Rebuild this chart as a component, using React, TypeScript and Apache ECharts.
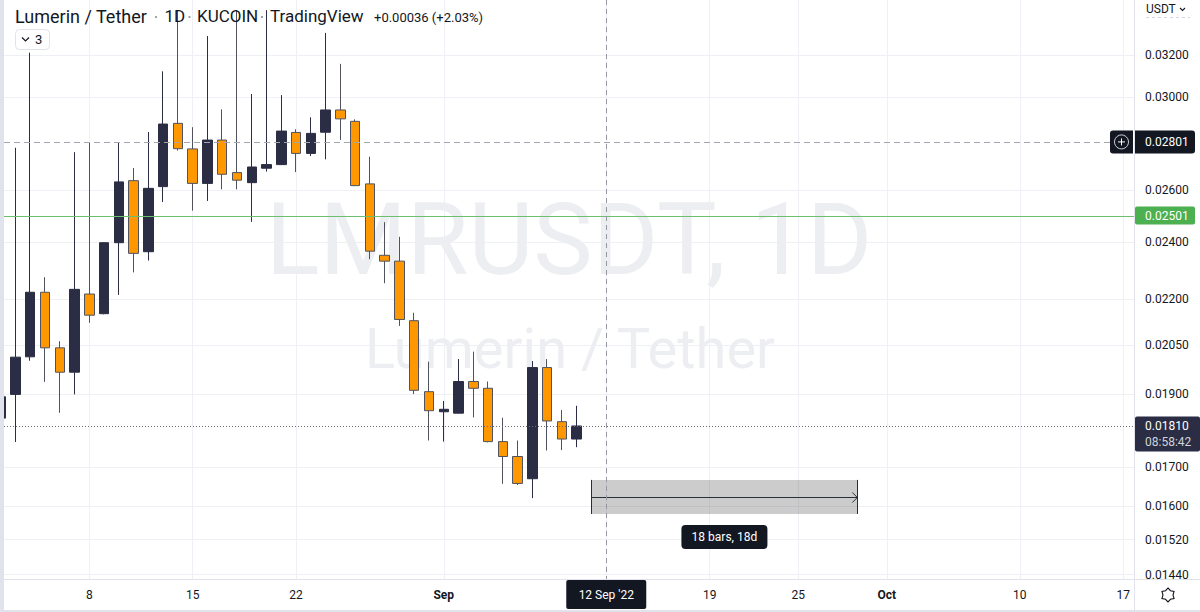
import React, { useEffect, useRef } from 'react';
import * as echarts from 'echarts';

const DAY = 86400000;

// ---- data ----
const dates = [
  '2022-08-02', '2022-08-03', '2022-08-04', '2022-08-05', '2022-08-06', '2022-08-07', '2022-08-08',
  '2022-08-09', '2022-08-10', '2022-08-11', '2022-08-12', '2022-08-13', '2022-08-14', '2022-08-15',
  '2022-08-16', '2022-08-17', '2022-08-18', '2022-08-19', '2022-08-20', '2022-08-21', '2022-08-22',
  '2022-08-23', '2022-08-24', '2022-08-25', '2022-08-26', '2022-08-27', '2022-08-28', '2022-08-29',
  '2022-08-30', '2022-08-31', '2022-09-01', '2022-09-02', '2022-09-03', '2022-09-04', '2022-09-05',
  '2022-09-06', '2022-09-07', '2022-09-08', '2022-09-09', '2022-09-10',
];
const opens = [
  0.01832, 0.01900, 0.02013, 0.02223, 0.02041, 0.01966, 0.02217,
  0.02151, 0.02399, 0.02639, 0.02366, 0.02615, 0.02882, 0.02771,
  0.02628, 0.02809, 0.02672, 0.02631, 0.02690, 0.02705, 0.02842,
  0.02752, 0.02843, 0.02942, 0.02891, 0.02626, 0.02353, 0.02332,
  0.02128, 0.01908, 0.01850, 0.01846, 0.01938, 0.01918, 0.01767,
  0.01727, 0.01669, 0.01980, 0.01822, 0.01774,
];
const closes = [
  0.01893, 0.02012, 0.02223, 0.02041, 0.01966, 0.02233, 0.02146,
  0.02399, 0.02634, 0.02360, 0.02608, 0.02879, 0.02772, 0.02628,
  0.02809, 0.02665, 0.02641, 0.02695, 0.02705, 0.02848, 0.02752,
  0.02838, 0.02942, 0.02902, 0.02619, 0.02368, 0.02332, 0.02132,
  0.01912, 0.01853, 0.01857, 0.01938, 0.01918, 0.01767, 0.01727,
  0.01657, 0.01980, 0.01824, 0.01774, 0.01810,
];
const lows = [
  0.01800, 0.01766, 0.02001, 0.01937, 0.01847, 0.01900, 0.02121,
  0.02149, 0.02214, 0.02292, 0.02334, 0.02554, 0.02764, 0.02520,
  0.02558, 0.02604, 0.02604, 0.02477, 0.02676, 0.02703, 0.02674,
  0.02741, 0.02727, 0.02809, 0.02617, 0.02339, 0.02254, 0.02111,
  0.01901, 0.01770, 0.01767, 0.01845, 0.01834, 0.01765, 0.01656,
  0.01653, 0.01620, 0.01743, 0.01744, 0.01752,
];
const highs = [
  0.01950, 0.02776, 0.03213, 0.02275, 0.02062, 0.02757, 0.02798,
  0.02400, 0.02798, 0.02691, 0.02844, 0.03122, 0.03430, 0.02865,
  0.03296, 0.02945, 0.03430, 0.03015, 0.03430, 0.03010, 0.02856,
  0.02909, 0.03312, 0.03158, 0.02900, 0.02738, 0.02476, 0.02421,
  0.02154, 0.01998, 0.01881, 0.02006, 0.02029, 0.01938, 0.01833,
  0.01770, 0.02000, 0.02006, 0.01855, 0.01867,
];

const priceTicks = [0.032, 0.03, 0.026, 0.024, 0.022, 0.0205, 0.019, 0.017, 0.016, 0.0152, 0.0144];
const dateTicks = [
  '2022-08-08', '2022-08-15', '2022-08-22', '2022-09-01', '2022-09-12',
  '2022-09-19', '2022-09-25', '2022-10-01', '2022-10-10', '2022-10-17',
];
const dateLabelTicks = dateTicks.filter((d) => d !== '2022-09-12');
const monthNames = ['Jan', 'Feb', 'Mar', 'Apr', 'May', 'Jun', 'Jul', 'Aug', 'Sep', 'Oct', 'Nov', 'Dec'];

const alertPrice = 0.02801;
const greenPrice = 0.02501;
const lastPrice = 0.0181;
const countdown = '08:58:42';
const crosshairDate = '2022-09-12';
const crosshairLabel = "12 Sep '22";
const measureStart = '2022-09-11';
const measureEnd = '2022-09-29';
const measureHigh = 0.01666;
const measureLow = 0.01581;
const measureText = '18 bars, 18d';

const titleParts = ['Lumerin / Tether', '1D', 'KUCOIN', 'TradingView'];
const changeText = '+0.00036 (+2.03%)';
const watermarkBig = 'LMRUSDT, 1D';
const watermarkSmall = 'Lumerin / Tether';

const ts = (d: string) => Date.parse(d + 'T00:00:00Z');

const DARK = '#2A2D43';
const ORANGE = '#FF9800';
const TEXT = '#131722';
const GRID = '#EEF0F5';
const BORDER = '#E0E3EB';
const FONT = 'Roboto, "Noto Sans", sans-serif';

export default function App() {
  const ref = useRef<HTMLDivElement>(null);

  useEffect(() => {
    const chart = echarts.init(ref.current!, null, { renderer: 'svg' });
    const data = dates.map((d, i) => [ts(d), opens[i], closes[i], lows[i], highs[i]]);
    const base = ts('2022-08-08');

    chart.setOption({
      animation: false,
      backgroundColor: '#ffffff',
      grid: { left: 4, right: 66, top: 0, bottom: 33, containLabel: false },
      xAxis: {
        type: 'value',
        min: base - 5.775 * DAY,
        max: base + 70.73 * DAY,
        axisLine: { show: false },
        axisTick: { show: false, customValues: dateTicks.map(ts) },
        splitLine: { show: true, lineStyle: { color: GRID, width: 1 } },
        axisLabel: {
          customValues: dateLabelTicks.map(ts),
          color: TEXT,
          fontSize: 12,
          fontFamily: FONT,
          margin: 10,
          formatter: (v: number) => {
            const d = new Date(v);
            const day = d.getUTCDate();
            if (day === 1) return '{b|' + monthNames[d.getUTCMonth()] + '}';
            return String(day);
          },
          rich: { b: { fontWeight: 'bold', fontSize: 12, fontFamily: FONT, color: TEXT } },
        },
      },
      yAxis: {
        type: 'log',
        logBase: 10,
        min: 0.014306,
        max: 0.034838,
        position: 'right',
        axisLine: { show: false },
        axisTick: { show: false, customValues: priceTicks },
        splitLine: { show: true, lineStyle: { color: GRID, width: 1 } },
        axisLabel: {
          customValues: priceTicks,
          color: TEXT,
          fontSize: 12,
          fontFamily: FONT,
          margin: 11,
          formatter: (v: number) => v.toFixed(5),
        },
      },
      series: [
        {
          type: 'candlestick',
          data,
          barWidth: 10,
          clip: true,
          itemStyle: {
            color: DARK,
            color0: ORANGE,
            borderColor: DARK,
            borderColor0: '#50535E',
            borderWidth: 1,
          },
        },
      ],
    });

    const P = (d: string, p: number) => chart.convertToPixel({ gridIndex: 0 }, [ts(d), p]) as number[];
    const yA = P(dates[0], alertPrice)[1];
    const yG = P(dates[0], greenPrice)[1];
    const yL = P(dates[0], lastPrice)[1];
    const cx = P(crosshairDate, lastPrice)[0];
    const mx1 = P(measureStart, measureHigh)[0];
    const my1 = P(measureStart, measureHigh)[1];
    const mx2 = P(measureEnd, measureLow)[0];
    const my2 = P(measureEnd, measureLow)[1];
    const mym = (my1 + my2) / 2;
    const mcx = (mx1 + mx2) / 2;
    const snap = (v: number) => Math.round(v) + 0.5;

    const txt = (text: string, x: number, y: number, opts: any = {}) => ({
      type: 'text',
      z: 100,
      style: {
        text,
        x,
        y,
        fill: TEXT,
        fontSize: 12,
        fontFamily: FONT,
        align: 'left',
        verticalAlign: 'middle',
        ...opts,
      },
    });

    const gear: number[][] = [];
    for (let i = 0; i < 12; i++) {
      const a = (Math.PI * 2 * i) / 12 - Math.PI / 2;
      const r = i % 2 === 0 ? 7 : 5;
      gear.push([1168 + r * Math.cos(a), 595 + r * Math.sin(a)]);
    }

    const titleX = [15, 164.5, 197, 270];
    const dotX = [156, 189.5, 262];

    const graphic: any[] = [
      {
        type: 'text', z: 1,
        style: { text: watermarkBig, x: 569, y: 239, fill: '#EDEEF2', fontSize: 100, fontFamily: FONT, align: 'center', verticalAlign: 'middle' },
      },
      {
        type: 'text', z: 1,
        style: { text: watermarkSmall, x: 570, y: 349, fill: '#EDEEF2', fontSize: 56, fontFamily: FONT, align: 'center', verticalAlign: 'middle' },
      },
      // price lines and crosshair
      { type: 'line', z: 60, shape: { x1: 4, y1: snap(yA), x2: 1110, y2: snap(yA) }, style: { stroke: '#A3A6AF', lineWidth: 1, lineDash: [6, 4] } },
      { type: 'line', z: 60, shape: { x1: 4, y1: snap(yG), x2: 1134, y2: snap(yG) }, style: { stroke: '#6BBF6E', lineWidth: 1 } },
      { type: 'line', z: 60, shape: { x1: 4, y1: snap(yL), x2: 1134, y2: snap(yL) }, style: { stroke: '#6A6D78', lineWidth: 1, lineDash: [1, 2] } },
      { type: 'line', z: 60, shape: { x1: snap(cx), y1: 0, x2: snap(cx), y2: 579 }, style: { stroke: '#9598A1', lineWidth: 1, lineDash: [5, 4] } },
      // frame
      { type: 'rect', z: 90, shape: { x: 0, y: 0, width: 4, height: 612 }, style: { fill: BORDER } },
      { type: 'rect', z: 90, shape: { x: 0, y: 610, width: 1200, height: 2 }, style: { fill: BORDER } },
      { type: 'line', z: 90, shape: { x1: 0, y1: 579.5, x2: 1200, y2: 579.5 }, style: { stroke: BORDER, lineWidth: 1 } },
      { type: 'line', z: 90, shape: { x1: 1134.5, y1: 0, x2: 1134.5, y2: 610 }, style: { stroke: BORDER, lineWidth: 1 } },
      // legend
      txt(titleParts[0], titleX[0], 16, { fontSize: 18 }),
      ...titleParts.slice(1).map((t, i) => txt(t, titleX[i + 1], 16, { fontSize: 17 })),
      ...dotX.map((x) => ({ type: 'circle', z: 100, shape: { cx: x, cy: 17, r: 1.1 }, style: { fill: '#9598A1' } })),
      txt(changeText, 374, 17, { fontSize: 13 }),
      { type: 'rect', z: 100, shape: { x: 15.5, y: 29.5, width: 34, height: 20, r: 4 }, style: { fill: '#ffffff', stroke: BORDER, lineWidth: 1 } },
      { type: 'polyline', z: 101, shape: { points: [[22, 37.5], [25.5, 41], [29, 37.5]] }, style: { stroke: TEXT, lineWidth: 1.2, fill: 'none' } },
      txt('3', 35, 39.5, { fontSize: 13 }),
      // currency
      txt('USDT', 1146, 9, { fontSize: 12 }),
      { type: 'polyline', z: 101, shape: { points: [[1180, 8], [1182.5, 10.5], [1185, 8]] }, style: { stroke: TEXT, lineWidth: 1.1, fill: 'none' } },
      { type: 'line', z: 100, shape: { x1: 1146, y1: 17.5, x2: 1190, y2: 17.5 }, style: { stroke: '#D1D4DC', lineWidth: 1, lineDash: [3, 3] } },
      // alert label
      { type: 'rect', z: 100, shape: { x: 1110, y: yA - 11.5, width: 23, height: 23, r: [3, 0, 0, 3] }, style: { fill: TEXT } },
      { type: 'circle', z: 101, shape: { cx: 1121.5, cy: yA, r: 7 }, style: { fill: 'none', stroke: '#D1D4DC', lineWidth: 1 } },
      { type: 'line', z: 101, shape: { x1: 1118, y1: yA, x2: 1125, y2: yA }, style: { stroke: '#ffffff', lineWidth: 1 } },
      { type: 'line', z: 101, shape: { x1: 1121.5, y1: yA - 3.5, x2: 1121.5, y2: yA + 3.5 }, style: { stroke: '#ffffff', lineWidth: 1 } },
      { type: 'rect', z: 100, shape: { x: 1135, y: yA - 11.5, width: 60, height: 23, r: [0, 3, 3, 0] }, style: { fill: TEXT } },
      txt(alertPrice.toFixed(5), 1145, yA, { fill: '#ffffff' }),
      // green label
      { type: 'rect', z: 100, shape: { x: 1135, y: yG - 9, width: 60, height: 18, r: 2 }, style: { fill: '#4CAF50' } },
      txt(greenPrice.toFixed(5), 1145, yG, { fill: '#ffffff' }),
      // last price label
      { type: 'rect', z: 100, shape: { x: 1135, y: yL - 9.5, width: 65, height: 35, r: 2 }, style: { fill: DARK } },
      txt(lastPrice.toFixed(5), 1145, yL, { fill: '#ffffff' }),
      txt(countdown, 1145, yL + 16, { fill: '#D1D4DC' }),
      // crosshair date label
      { type: 'rect', z: 100, shape: { x: cx - 40, y: 580, width: 80, height: 29, r: 2 }, style: { fill: TEXT } },
      txt(crosshairLabel, cx, 595, { fill: '#ffffff', align: 'center' }),
      // measure tool
      { type: 'rect', z: 50, shape: { x: mx1, y: my1, width: mx2 - mx1, height: my2 - my1 }, style: { fill: 'rgba(0,0,0,0.2)' } },
      { type: 'line', z: 51, shape: { x1: snap(mx1), y1: my1, x2: snap(mx1), y2: my2 }, style: { stroke: '#2A2E39', lineWidth: 1 } },
      { type: 'line', z: 51, shape: { x1: snap(mx2), y1: my1, x2: snap(mx2), y2: my2 }, style: { stroke: '#2A2E39', lineWidth: 1 } },
      { type: 'line', z: 51, shape: { x1: mx1, y1: snap(mym), x2: mx2, y2: snap(mym) }, style: { stroke: '#2A2E39', lineWidth: 1 } },
      { type: 'polyline', z: 51, shape: { points: [[mx2 - 5, snap(mym) - 5], [mx2, snap(mym)], [mx2 - 5, snap(mym) + 5]] }, style: { stroke: '#2A2E39', lineWidth: 1, fill: 'none' } },
      { type: 'rect', z: 100, shape: { x: mcx - 43, y: my2 + 11, width: 86, height: 24, r: 4 }, style: { fill: TEXT } },
      txt(measureText, mcx, my2 + 23, { fill: '#ffffff', align: 'center' }),
      // settings icon
      { type: 'polygon', z: 100, shape: { points: gear }, style: { fill: 'none', stroke: TEXT, lineWidth: 1.1 } },
    ];

    chart.setOption({ graphic });

    return () => chart.dispose();
  }, []);

  return (
    <div
      ref={ref}
      style={{ position: 'fixed', left: 0, top: 0, width: 1200, height: 612, background: '#ffffff' }}
    />
  );
}
